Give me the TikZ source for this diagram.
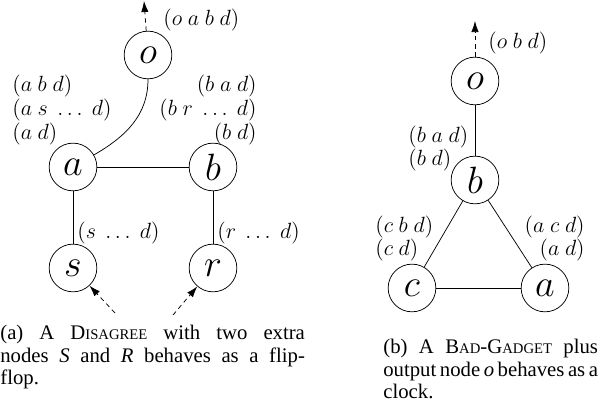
\documentclass[tikz,border=0pt]{standalone}
\usepackage{fontspec}
\setmainfont{Liberation Serif}
\usetikzlibrary{arrows.meta,positioning}

\begin{document}
\begin{tikzpicture}[
  x=0.545pt, y=-0.545pt,
  >={Latex[length=6pt,width=4pt]},
  % router vertex
  vtx/.style={draw, circle, minimum size=26pt, inner sep=0pt, font=\huge},
  % list of paths beside a vertex
  plbl/.style={inner sep=0pt, font=\fontsize{12.4}{11.8}\selectfont},
  % sub-figure caption
  capn/.style={inner sep=0pt, align=justify,
               font=\fontsize{11.3}{12}\selectfont},
  % dashed input / output arrow
  io/.style={dash pattern=on 2.5pt off 2pt, ->},
]
\useasboundingbox (0,0) rectangle (613,400);

%% -- (a) Disagree with S and R ---------------------------------------------
\node[vtx] (lo) at (148, 55)  {$o$};
\node[vtx] (la) at (73, 167)  {$a$};
\node[vtx] (lb) at (213, 167) {$b$};
\node[vtx] (ls) at (73, 268)  {$s$};
\node[vtx] (lr) at (213, 268) {$r$};

\coordinate (loOut) at (144, 1);
\coordinate (lsIn)  at (115, 313);
\coordinate (lrIn)  at (173, 315);

\draw (la) to[out=30, in=-90] (lo);
\draw (la) -- (lb);
\draw (la) -- (ls);
\draw (lb) -- (lr);
\draw[io] (lo) -- (loOut);
\draw[io] (lsIn) -- (ls);
\draw[io] (lrIn) -- (lr);

\node[plbl, anchor=west] at (163, 20) {$(o\ a\ b\ d)$};
\node[plbl, anchor=west, align=left] at (12, 110)
  {$(a\ b\ d)$\\$(a\ s\ \ldots\ d)$\\$(a\ d)$};
\node[plbl, anchor=east, align=right] at (257, 110)
  {$(b\ a\ d)$\\$(b\ r\ \ldots\ d)$\\$(b\ d)$};
\node[plbl, anchor=west] at (77, 233)  {$(s\ \ldots\ d)$};
\node[plbl, anchor=west] at (217, 233) {$(r\ \ldots\ d)$};

\node[capn, text width=166pt, anchor=base west] (capA) at (0, 340)
  {(a) A D{\footnotesize ISAGREE} with two extra\linebreak
   nodes \textit{S} and \textit{R} behaves as a flip-\linebreak flop.};

%% -- (b) Bad-Gadget with output node ---------------------------------------
\node[vtx] (ro) at (475, 81)  {$o$};
\node[vtx] (rb) at (475, 180) {$b$};
\node[vtx] (rc) at (412, 288) {$c$};
\node[vtx] (ra) at (545, 288) {$a$};

\coordinate (roOut) at (475, 21);

\draw (ro) -- (rb);
\draw (rb) -- (rc);
\draw (rb) -- (ra);
\draw (rc) -- (ra);
\draw[io] (ro) -- (roOut);

\node[plbl, anchor=west] at (488, 43) {$(o\ b\ d)$};
\node[plbl, anchor=west, align=left] at (408, 148.5)
  {$(b\ a\ d)$\\$(b\ d)$};
\node[plbl, anchor=west, align=left] at (375, 238.5)
  {$(c\ b\ d)$\\$(c\ d)$};
\node[plbl, anchor=east, align=right] at (585, 238.5)
  {$(a\ c\ d)$\\$(a\ d)$};

\node[capn, text width=117pt, anchor=base west] (capB) at (383, 354)
  {(b) A B{\footnotesize AD}-G{\footnotesize ADGET} plus\linebreak
   output node \textit{o} behaves as a\linebreak clock.};

\end{tikzpicture}
\end{document}
